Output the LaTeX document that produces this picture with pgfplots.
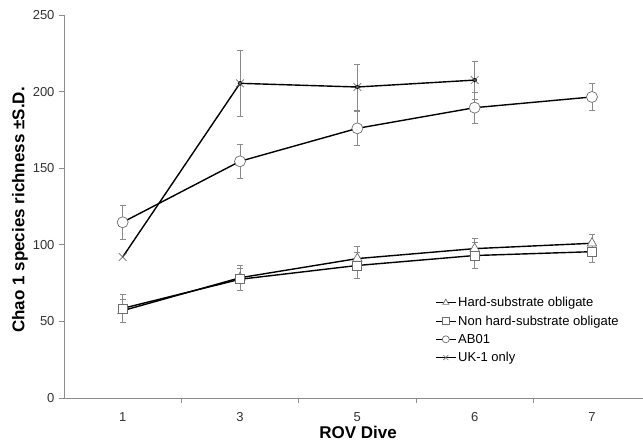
\documentclass[border=0pt]{standalone}
\usepackage{pgfplots}
\pgfplotsset{compat=1.18}
\usepackage{fontspec}
\setmainfont{Liberation Sans}
\definecolor{axgray}{HTML}{8C8C8C}
\definecolor{mkgray}{HTML}{6E6E6E}
\definecolor{errgray}{HTML}{8A8A8A}
% x index: 0=1, 1=3, 2=5, 3=6, 4=7
\pgfplotstableread{
x y e
0 57 7.5
1 78.5 8
2 91 8
3 97.5 6.7
4 101 6
}\hard
\pgfplotstableread{
x y e
0 58.5 9
1 77.5 7
2 86.5 8.5
3 93 8.5
4 95.5 7
}\nonhard
\pgfplotstableread{
x y e
0 114.7 11
1 154.5 11
2 176 11
3 189.5 10
4 196.5 9
}\abo
\pgfplotstableread{
x y e
0 92 0
1 205.4 21.5
2 203 15
3 207.5 12.5
}\uk
\pgfplotstableread{
x y e
1 205.4 21.5
2 203 15
3 207.5 12.5
}\ukerr
\pgfplotsset{
  errplot/.style={only marks, mark=none, forget plot,
    error bars/.cd, y dir=both, y explicit,
    error bar style={errgray, line width=0.8pt},
    error mark options={errgray, line width=0.8pt, mark size=3pt, rotate=90}},
}
\begin{document}
\begin{tikzpicture}[x=1pt,y=1pt]
\begin{axis}[
  at={(0,0)}, anchor=south west,
  scale only axis,
  width=579pt, height=383pt,
  xmin=-0.5, xmax=4.435,
  ymin=0, ymax=250,
  axis x line*=bottom, axis y line*=left,
  axis line style={axgray, line width=0.9pt},
  xtick={0,1,2,3,4},
  xticklabels={1,3,5,6,7},
  minor xtick={0.5,1.5,2.5,3.5},
  ytick={0,50,100,150,200,250},
  tick align=outside,
  major x tick style={draw=none},
  minor x tick style={axgray, line width=0.8pt},
  minor tick length=5pt,
  major tick length=5pt,
  y tick style={axgray, line width=0.8pt},
  /pgf/number format/assume math mode=true,
  tick label style={font=\fontsize{13}{15}\selectfont, text=black!80},
  xticklabel style={yshift=-6pt},
  yticklabel style={xshift=-1pt},
  xlabel={ROV Dive},
  ylabel={Chao 1 species richness ±S.D.},
  xlabel style={at={(axis description cs:0.508,-0.0888)}, anchor=center, font=\fontsize{17}{20}\selectfont\bfseries},
  ylabel style={at={(axis description cs:-0.076,0.491)}, anchor=center, font=\fontsize{17}{20}\selectfont\bfseries},
  clip=false,
  legend cell align=left,
  legend style={draw=none, fill=none, at={(rel axis cs:0.641,0.269)}, anchor=north west,
    font=\fontsize{13}{15}\selectfont, row sep=3.5pt, inner sep=0pt},
  legend image code/.code={\draw[#1, line width=0.9pt, mark size=3.5pt, mark repeat=2, mark phase=2] plot coordinates {(0pt,0pt) (10pt,0pt) (20pt,0pt)};},
]
% error bars first (under markers)
\addplot[errplot] table[x=x, y=y, y error=e] {\hard};
\addplot[errplot] table[x=x, y=y, y error=e] {\nonhard};
\addplot[errplot] table[x=x, y=y, y error=e] {\abo};
\addplot[errplot] table[x=x, y=y, y error=e] {\ukerr};
\addplot[black, line width=1.4pt, mark=triangle*, mark size=5.5pt,
  mark options={fill=white, draw=mkgray, line width=0.7pt}] table[x=x, y=y] {\hard};
\addlegendentry{Hard-substrate obligate}
\addplot[black, line width=1.4pt, mark=square*, mark size=4.5pt,
  mark options={fill=white, draw=mkgray, line width=0.7pt}] table[x=x, y=y] {\nonhard};
\addlegendentry{Non hard-substrate obligate}
\addplot[black, line width=1.4pt, mark=*, mark size=5.5pt,
  mark options={fill=white, draw=mkgray, line width=0.7pt}] table[x=x, y=y] {\abo};
\addlegendentry{AB01}
\addplot[black, line width=1.4pt, mark=x, mark size=5.5pt,
  mark options={draw=mkgray, line width=0.7pt}] table[x=x, y=y] {\uk};
\addlegendentry{UK-1 only}
\end{axis}
\pgfresetboundingbox
\path[use as bounding box] (-64pt,-43pt) rectangle (579pt,398pt);
\end{tikzpicture}
\end{document}
